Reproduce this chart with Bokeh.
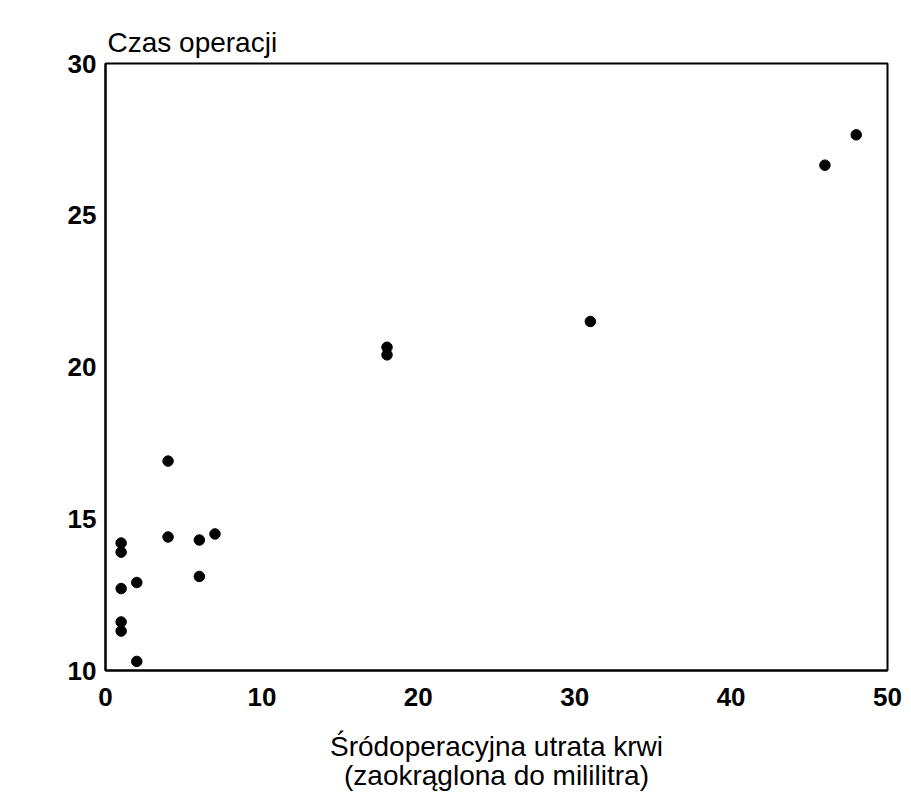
from bokeh.plotting import figure
from bokeh.models import Range1d, FixedTicker, Title
from bokeh.embed import file_html
from bokeh.resources import INLINE

# Data
blood_loss = [1, 1, 1, 1, 1, 2, 2, 4, 4, 6, 6, 7, 18, 18, 31, 46, 48]
op_time = [14.2, 13.9, 12.7, 11.6, 11.3, 10.3, 12.9, 16.9, 14.4, 14.3, 13.1, 14.5,
           20.65, 20.4, 21.5, 26.65, 27.65]
x_ticks = [0, 10, 20, 30, 40, 50]
y_ticks = [10, 15, 20, 25, 30]

FONT = "Liberation Sans"

p = figure(width=905, height=800, output_backend="svg", toolbar_location=None,
           x_range=Range1d(0, 50), y_range=Range1d(10, 30),
           min_border_left=105, min_border_right=18, min_border_top=63,
           min_border_bottom=130)

p.title = Title(text="Czas operacji", align="left", offset=2,
                text_font=FONT, text_font_size="28px", text_font_style="normal",
                text_color="black", standoff=12)

p.grid.visible = False
p.outline_line_color = "black"
p.outline_line_width = 2
p.outline_line_alpha = 1

for ax in (p.xaxis[0], p.yaxis[0]):
    ax.axis_line_width = 2
    ax.axis_line_color = "black"
    ax.major_tick_out = 0
    ax.major_tick_in = 0
    ax.minor_tick_out = 0
    ax.minor_tick_in = 0
    ax.major_label_text_font = FONT
    ax.major_label_text_font_size = "26px"
    ax.major_label_text_font_style = "bold"
    ax.major_label_text_color = "black"

p.xaxis.ticker = FixedTicker(ticks=x_ticks)
p.yaxis.ticker = FixedTicker(ticks=y_ticks)
p.xaxis.major_label_standoff = 17
p.yaxis.major_label_standoff = 9

p.xaxis.axis_label = "Śródoperacyjna utrata krwi\n(zaokrąglona do mililitra)"
p.xaxis.axis_label_text_font = FONT
p.xaxis.axis_label_text_font_size = "28px"
p.xaxis.axis_label_text_font_style = "normal"
p.xaxis.axis_label_text_color = "black"
p.xaxis.axis_label_text_line_height = 0.95
p.xaxis.axis_label_standoff = 22

p.scatter(blood_loss, op_time, size=10.5, color="black", marker="circle")

open("out.html", "w").write(file_html(p, INLINE))
